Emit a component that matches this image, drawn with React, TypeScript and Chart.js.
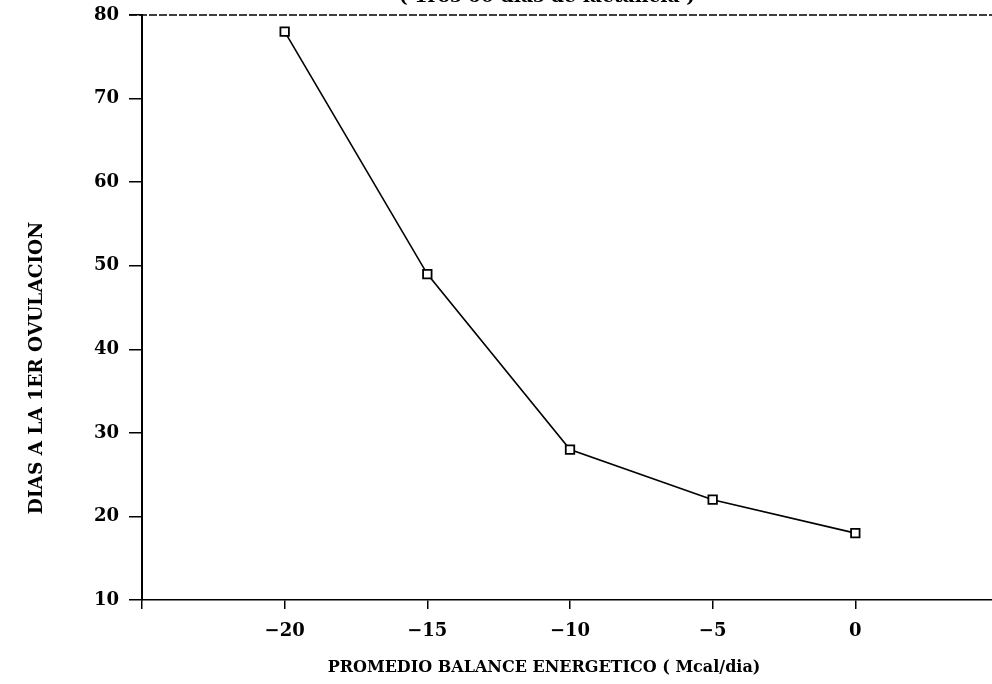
import React, { useEffect, useRef } from "react";
import { Chart, registerables } from "chart.js";

Chart.register(...registerables);

// ---- data ----
const balanceEnergetico = [-20, -15, -10, -5, 0];
const diasOvulacion = [78, 49, 28, 22, 18];
const xTickValues = [-20, -15, -10, -5, 0];
const yTickValues = [10, 20, 30, 40, 50, 60, 70, 80];
const chartTitle = "( 1ros 60 dias de lactancia )";
const xAxisTitle = "PROMEDIO BALANCE ENERGETICO ( Mcal/dia)";
const yAxisTitle = "DIAS A LA 1ER OVULACION";

const FONT = '"DejaVu Serif", serif';
const CANVAS_W = 1010;
const CANVAS_H = 714;
const OFFSET_Y = 30;

const decorPlugin = {
  id: "decor",
  afterDraw(chart: any) {
    const { ctx, chartArea } = chart;
    ctx.save();
    // top dashed border
    ctx.strokeStyle = "#000";
    ctx.lineWidth = 1.5;
    ctx.setLineDash([8, 2]);
    ctx.beginPath();
    ctx.moveTo(chartArea.left - 13, chartArea.top);
    ctx.lineTo(chartArea.right, chartArea.top);
    ctx.stroke();
    ctx.setLineDash([]);
    ctx.fillStyle = "#000";
    // title (partially cut off at top)
    ctx.font = `bold 19px ${FONT}`;
    ctx.textAlign = "center";
    ctx.textBaseline = "alphabetic";
    ctx.fillText(chartTitle, 547, OFFSET_Y + 2);
    // x axis title
    ctx.font = `bold 16px ${FONT}`;
    ctx.textBaseline = "middle";
    ctx.fillText(xAxisTitle, 544, OFFSET_Y + 668);
    // y axis title
    ctx.translate(37, OFFSET_Y + 368);
    ctx.rotate(-Math.PI / 2);
    ctx.font = `bold 18.5px ${FONT}`;
    ctx.fillText(yAxisTitle, 0, 0);
    ctx.restore();
  },
};

export default function App() {
  const ref = useRef<HTMLCanvasElement | null>(null);
  useEffect(() => {
    if (!ref.current) return;
    const chart = new Chart(ref.current, {
      type: "line",
      data: {
        datasets: [
          {
            data: balanceEnergetico.map((x, i) => ({ x, y: diasOvulacion[i] })),
            borderColor: "#000",
            borderWidth: 1.6,
            pointStyle: "rect",
            pointRadius: 6,
            pointBorderWidth: 1.8,
            pointBorderColor: "#000",
            pointBackgroundColor: "#fff",
            tension: 0,
          },
        ],
      },
      options: {
        animation: false,
        responsive: false,
        layout: { padding: { top: OFFSET_Y + 15, left: 0, right: 4, bottom: 0 } },
        plugins: { legend: { display: false }, tooltip: { enabled: false }, title: { display: false } },
        scales: {
          x: {
            type: "linear",
            min: -25,
            max: 5,
            afterFit: (s: any) => {
              s.height = CANVAS_H - (OFFSET_Y + 600);
            },
            afterBuildTicks: (s: any) => {
              s.ticks = [-25, ...xTickValues, 5].map((v) => ({ value: v }));
            },
            ticks: {
              color: "#000",
              font: { family: FONT, weight: "bold", size: 18 },
              padding: 12,
              maxRotation: 0,
              callback: (v: any) =>
                xTickValues.includes(Number(v)) ? (Number(v) < 0 ? "\u2212" + Math.abs(Number(v)) : String(v)) : "",
            },
            grid: { drawOnChartArea: false, drawTicks: true, tickLength: 9, color: "#000", lineWidth: 1.5 },
            border: { color: "#000", width: 1.5, dash: [8, 2] },
          },
          y: {
            type: "linear",
            min: 10,
            max: 80,
            afterFit: (s: any) => {
              s.width = 142;
            },
            afterBuildTicks: (s: any) => {
              s.ticks = yTickValues.map((v) => ({ value: v }));
            },
            ticks: {
              color: "#000",
              font: { family: FONT, weight: "bold", size: 18 },
              padding: 10,
            },
            grid: { drawOnChartArea: false, drawTicks: true, tickLength: 13, color: "#000", lineWidth: 1.5 },
            border: { color: "#000", width: 2 },
          },
        },
      },
      plugins: [decorPlugin],
    });
    return () => chart.destroy();
  }, []);
  return (
    <div
      style={{
        position: "fixed",
        left: 0,
        top: 0,
        width: 992,
        height: 684,
        overflow: "hidden",
        background: "#fff",
      }}
    >
      <canvas
        ref={ref}
        width={CANVAS_W}
        height={CANVAS_H}
        style={{ position: "absolute", left: 0, top: -OFFSET_Y, width: CANVAS_W, height: CANVAS_H }}
      />
    </div>
  );
}
